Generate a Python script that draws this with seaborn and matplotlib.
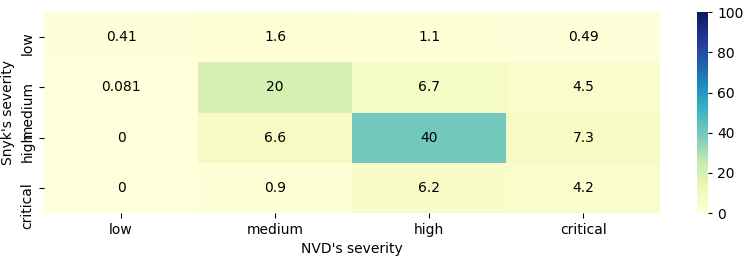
import matplotlib
matplotlib.use("Agg")
import matplotlib.pyplot as plt
import seaborn as sns
import numpy as np
import pandas as pd

nvd_levels = ["low", "medium", "high", "critical"]
snyk_levels = ["low", "medium", "high", "critical"]
row_low = [0.41, 1.6, 1.1, 0.49]
row_medium = [0.081, 20, 6.7, 4.5]
row_high = [0, 6.6, 40, 7.3]
row_critical = [0, 0.9, 6.2, 4.2]

df = pd.DataFrame([row_low, row_medium, row_high, row_critical],
                  index=snyk_levels, columns=nvd_levels)

fig = plt.figure(figsize=(7.47, 2.58), dpi=100)
ax = fig.add_axes([0.059, 0.174, 0.825, 0.779])
cax = fig.add_axes([0.933, 0.174, 0.015, 0.779])
sns.heatmap(df, ax=ax, cbar_ax=cax, cmap="YlGnBu", vmin=0, vmax=100, annot=True,
            annot_kws={"color": "black"})
ax.set_xlabel("NVD's severity")
ax.set_ylabel("Snyk's severity")
plt.setp(ax.get_yticklabels(), rotation=90, va="top")
for t in ax.get_yticklabels():
    t.set_y(t.get_position()[1])
cax.tick_params(length=3)
fig.canvas.draw()
# shift labels slightly above tick
import matplotlib.transforms as mtransforms
off = mtransforms.ScaledTranslation(0, 6 / 100, fig.dpi_scale_trans)
for t in ax.get_yticklabels():
    t.set_transform(t.get_transform() + off)
fig.savefig("out.png", dpi=100)
